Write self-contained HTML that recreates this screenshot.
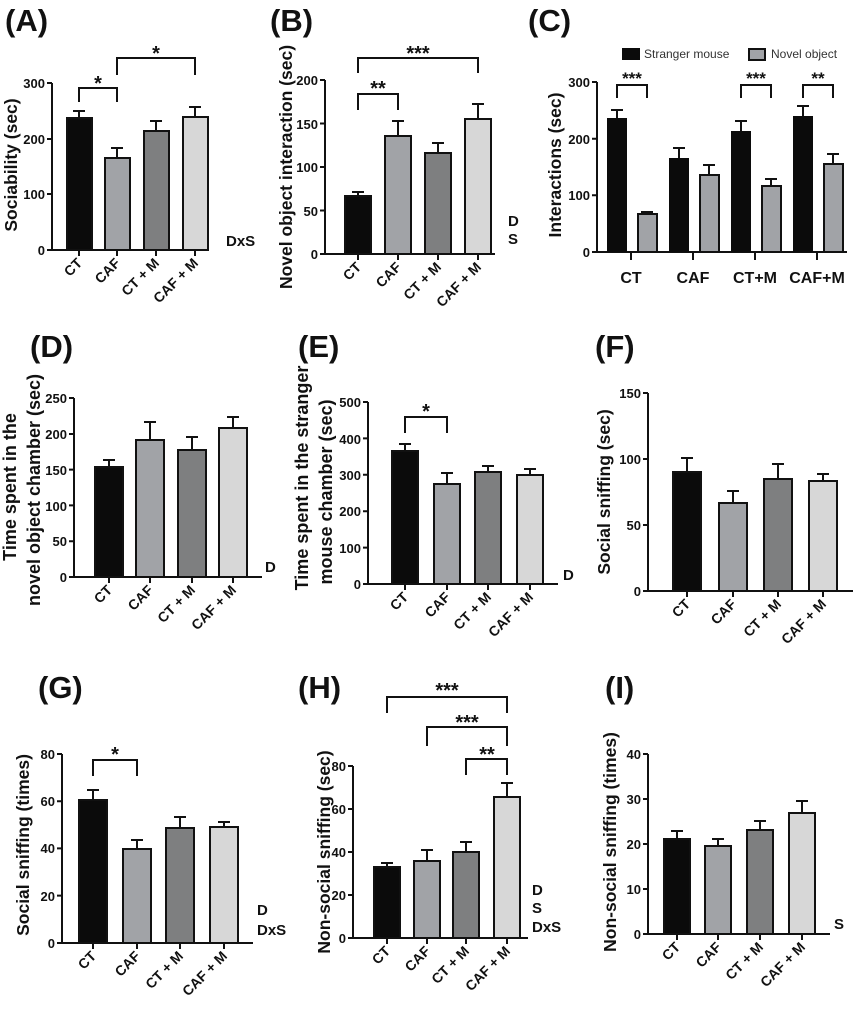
<!DOCTYPE html>
<html><head><meta charset="utf-8"><style>
body{margin:0;background:#fff}
svg{display:block}
text{font-family:"Liberation Sans",Arial,sans-serif;font-weight:bold;fill:#111}
.pl{font-size:31px}
.tk{font-size:13px}
.xl{font-size:14px}
.yt{font-size:17.5px}
.yt2{font-size:18px}
.st{font-size:15px}
.sr{font-size:20px}
.ax{stroke:#111;stroke-width:2;fill:none}
.b{stroke:#111;stroke-width:2}
.k{fill:#0b0b0b}.g1{fill:#a1a3a7}.g2{fill:#7e7f80}.g3{fill:#d7d7d7}
</style></head><body>
<svg width="855" height="1021" viewBox="0 0 855 1021" xmlns="http://www.w3.org/2000/svg">
<text class="pl" x="5" y="31">(A)</text>
<text class="pl" x="270" y="31">(B)</text>
<text class="pl" x="528" y="31">(C)</text>
<text class="pl" x="30" y="357">(D)</text>
<text class="pl" x="298" y="357">(E)</text>
<text class="pl" x="595" y="357">(F)</text>
<text class="pl" x="38" y="698">(G)</text>
<text class="pl" x="298" y="698">(H)</text>
<text class="pl" x="605" y="698">(I)</text>

<!-- A -->
<text class="yt" transform="translate(17,165) rotate(-90)" text-anchor="middle">Sociability (sec)</text>
<path class="ax" d="M52 83 V250 H208"/>
<path class="ax" d="M47 83H52M47 139H52M47 194H52M47 250H52M79 250V256M117 250V256M156 250V256M195 250V256"/>
<g class="tk" text-anchor="end"><text x="45" y="88">300</text><text x="45" y="144">200</text><text x="45" y="199">100</text><text x="45" y="255">0</text></g>
<path class="ax" d="M79 118V111M73 111H85M117 158V148M111 148H123M156 131V121M150 121H162M195 117V107M189 107H201"/>
<rect class="b k" x="67" y="118" width="25" height="132"/>
<rect class="b g1" x="105" y="158" width="25" height="92"/>
<rect class="b g2" x="144" y="131" width="25" height="119"/>
<rect class="b g3" x="183" y="117" width="25" height="133"/>
<g class="xl" text-anchor="end">
<text transform="translate(83,264) rotate(-45)">CT</text>
<text transform="translate(121,264) rotate(-45)">CAF</text>
<text transform="translate(160,264) rotate(-45)">CT + M</text>
<text transform="translate(199,264) rotate(-45)">CAF + M</text></g>
<path class="ax" d="M79 102V88H117V102M117 75V58H195V75"/>
<g class="sr" text-anchor="middle"><text x="98" y="90">*</text><text x="156" y="60">*</text></g>
<text class="st" x="226" y="246">DxS</text>

<!-- B -->
<text class="yt" transform="translate(292,167) rotate(-90)" text-anchor="middle">Novel object interaction (sec)</text>
<path class="ax" d="M325 80V254H495"/>
<path class="ax" d="M320 80H325M320 123.5H325M320 167H325M320 210.5H325M320 254H325M358 254V260M398 254V260M438 254V260M478 254V260"/>
<g class="tk" text-anchor="end"><text x="318" y="85">200</text><text x="318" y="129">150</text><text x="318" y="172">100</text><text x="318" y="216">50</text><text x="318" y="259">0</text></g>
<path class="ax" d="M358 196V192M352 192H364M398 136V121M392 121H404M438 153V143M432 143H444M478 119V104M472 104H484"/>
<rect class="b k" x="345" y="196" width="26" height="58"/>
<rect class="b g1" x="385" y="136" width="26" height="118"/>
<rect class="b g2" x="425" y="153" width="26" height="101"/>
<rect class="b g3" x="465" y="119" width="26" height="135"/>
<g class="xl" text-anchor="end">
<text transform="translate(362,268) rotate(-45)">CT</text>
<text transform="translate(402,268) rotate(-45)">CAF</text>
<text transform="translate(442,268) rotate(-45)">CT + M</text>
<text transform="translate(482,268) rotate(-45)">CAF + M</text></g>
<path class="ax" d="M358 110V94H398V110M358 73V58H478V73"/>
<g class="sr" text-anchor="middle"><text x="378" y="95">**</text><text x="418" y="60">***</text></g>
<text class="st" x="508" y="226">D</text><text class="st" x="508" y="244">S</text>

<!-- C -->
<text class="yt" transform="translate(561,165) rotate(-90)" text-anchor="middle">Interactions (sec)</text>
<rect x="622" y="48" width="18" height="12" fill="#0b0b0b"/>
<text x="644" y="58" style="font-size:12px;font-weight:normal;fill:#333">Stranger mouse</text>
<rect x="749" y="49" width="16" height="11" fill="#a1a3a7" stroke="#111" stroke-width="2"/>
<text x="771" y="58" style="font-size:12px;font-weight:normal;fill:#333">Novel object</text>
<path class="ax" d="M597 82V252H847"/>
<path class="ax" d="M592 82H597M592 138.7H597M592 195.3H597M592 252H597M631 252V260M693 252V260M755 252V260M817 252V260"/>
<g class="tk" text-anchor="end"><text x="590" y="87">300</text><text x="590" y="144">200</text><text x="590" y="200">100</text><text x="590" y="257">0</text></g>
<path class="ax" d="M617 118V110M611 110H623M679 158V148M673 148H685M741 131V121M735 121H747M803 116V106M797 106H809M647 214V212M641 212H653M709 175V165M703 165H715M771 186V179M765 179H777M833 164V154M827 154H839"/>
<rect class="k" x="607" y="118" width="20" height="134"/>
<rect class="k" x="669" y="158" width="20" height="94"/>
<rect class="k" x="731" y="131" width="20" height="121"/>
<rect class="k" x="793" y="116" width="20" height="136"/>
<rect class="b g1" x="638" y="214" width="19" height="38"/>
<rect class="b g1" x="700" y="175" width="19" height="77"/>
<rect class="b g1" x="762" y="186" width="19" height="66"/>
<rect class="b g1" x="824" y="164" width="19" height="88"/>
<g style="font-size:16px" text-anchor="middle"><text x="631" y="283">CT</text><text x="693" y="283">CAF</text><text x="755" y="283">CT+M</text><text x="817" y="283">CAF+M</text></g>
<path class="ax" d="M617 98V85H647V98M741 98V85H771V98M803 98V85H833V98"/>
<g class="sr" style="font-size:17px" text-anchor="middle"><text x="632" y="84">***</text><text x="756" y="84">***</text><text x="818" y="84">**</text></g>

<!-- D -->
<text class="yt2" transform="translate(16,487) rotate(-90)" text-anchor="middle">Time spent in the</text>
<text class="yt2" transform="translate(40,490) rotate(-90)" text-anchor="middle">novel object chamber (sec)</text>
<path class="ax" d="M74 398V577H262"/>
<path class="ax" d="M69 398H74M69 434H74M69 469.6H74M69 505.4H74M69 541.2H74M69 577H74M109 577V583M150 577V583M192 577V583M233 577V583"/>
<g class="tk" text-anchor="end"><text x="67" y="403">250</text><text x="67" y="439">200</text><text x="67" y="475">150</text><text x="67" y="511">100</text><text x="67" y="546">50</text><text x="67" y="582">0</text></g>
<path class="ax" d="M109 467V460M103 460H115M150 440V422M144 422H156M192 450V437M186 437H198M233 428V417M227 417H239"/>
<rect class="b k" x="95" y="467" width="28" height="110"/>
<rect class="b g1" x="136" y="440" width="28" height="137"/>
<rect class="b g2" x="178" y="450" width="28" height="127"/>
<rect class="b g3" x="219" y="428" width="28" height="149"/>
<g class="xl" text-anchor="end">
<text transform="translate(113,591) rotate(-45)">CT</text>
<text transform="translate(154,591) rotate(-45)">CAF</text>
<text transform="translate(196,591) rotate(-45)">CT + M</text>
<text transform="translate(237,591) rotate(-45)">CAF + M</text></g>
<text class="st" x="265" y="572">D</text>

<!-- E -->
<text class="yt2" transform="translate(308,478) rotate(-90)" text-anchor="middle">Time spent in the stranger</text>
<text class="yt2" transform="translate(332,492) rotate(-90)" text-anchor="middle">mouse chamber (sec)</text>
<path class="ax" d="M368 402V584H558"/>
<path class="ax" d="M363 402H368M363 438.4H368M363 474.8H368M363 511.2H368M363 547.6H368M363 584H368M405 584V590M447 584V590M488 584V590M530 584V590"/>
<g class="tk" text-anchor="end"><text x="361" y="407">500</text><text x="361" y="444">400</text><text x="361" y="480">300</text><text x="361" y="516">200</text><text x="361" y="553">100</text><text x="361" y="589">0</text></g>
<path class="ax" d="M405 451V444M399 444H411M447 484V473M441 473H453M488 472V466M482 466H494M530 475V469M524 469H536"/>
<rect class="b k" x="392" y="451" width="26" height="133"/>
<rect class="b g1" x="434" y="484" width="26" height="100"/>
<rect class="b g2" x="475" y="472" width="26" height="112"/>
<rect class="b g3" x="517" y="475" width="26" height="109"/>
<g class="xl" text-anchor="end">
<text transform="translate(409,598) rotate(-45)">CT</text>
<text transform="translate(451,598) rotate(-45)">CAF</text>
<text transform="translate(492,598) rotate(-45)">CT + M</text>
<text transform="translate(534,598) rotate(-45)">CAF + M</text></g>
<path class="ax" d="M405 433V417H447V433"/>
<text class="sr" x="426" y="418" text-anchor="middle">*</text>
<text class="st" x="563" y="580">D</text>

<!-- F -->
<text class="yt" transform="translate(610,492) rotate(-90)" text-anchor="middle">Social sniffing (sec)</text>
<path class="ax" d="M648 393V591H853"/>
<path class="ax" d="M643 393H648M643 459H648M643 525H648M643 591H648M687 591V597M733 591V597M778 591V597M823 591V597"/>
<g class="tk" text-anchor="end"><text x="641" y="398">150</text><text x="641" y="464">100</text><text x="641" y="530">50</text><text x="641" y="596">0</text></g>
<path class="ax" d="M687 472V458M681 458H693M733 503V491M727 491H739M778 479V464M772 464H784M823 481V474M817 474H829"/>
<rect class="b k" x="673" y="472" width="28" height="119"/>
<rect class="b g1" x="719" y="503" width="28" height="88"/>
<rect class="b g2" x="764" y="479" width="28" height="112"/>
<rect class="b g3" x="809" y="481" width="28" height="110"/>
<g class="xl" text-anchor="end">
<text transform="translate(691,605) rotate(-45)">CT</text>
<text transform="translate(737,605) rotate(-45)">CAF</text>
<text transform="translate(782,605) rotate(-45)">CT + M</text>
<text transform="translate(827,605) rotate(-45)">CAF + M</text></g>

<!-- G -->
<text class="yt" transform="translate(29,845) rotate(-90)" text-anchor="middle">Social sniffing (times)</text>
<path class="ax" d="M62 754V943H253"/>
<path class="ax" d="M57 754H62M57 801.2H62M57 848.4H62M57 895.6H62M57 943H62M93 943V949M137 943V949M180 943V949M224 943V949"/>
<g class="tk" text-anchor="end"><text x="55" y="759">80</text><text x="55" y="806">60</text><text x="55" y="853">40</text><text x="55" y="901">20</text><text x="55" y="948">0</text></g>
<path class="ax" d="M93 800V790M87 790H99M137 849V840M131 840H143M180 828V817M174 817H186M224 827V822M218 822H230"/>
<rect class="b k" x="79" y="800" width="28" height="143"/>
<rect class="b g1" x="123" y="849" width="28" height="94"/>
<rect class="b g2" x="166" y="828" width="28" height="115"/>
<rect class="b g3" x="210" y="827" width="28" height="116"/>
<g class="xl" text-anchor="end">
<text transform="translate(97,957) rotate(-45)">CT</text>
<text transform="translate(141,957) rotate(-45)">CAF</text>
<text transform="translate(184,957) rotate(-45)">CT + M</text>
<text transform="translate(228,957) rotate(-45)">CAF + M</text></g>
<path class="ax" d="M93 776V760H137V776"/>
<text class="sr" x="115" y="761" text-anchor="middle">*</text>
<text class="st" x="257" y="915">D</text><text class="st" x="257" y="935">DxS</text>

<!-- H -->
<text class="yt" transform="translate(330,852) rotate(-90)" text-anchor="middle">Non-social sniffing (sec)</text>
<path class="ax" d="M353 766V938H528"/>
<path class="ax" d="M348 766H353M348 809H353M348 852H353M348 895H353M348 938H353M387 938V944M427 938V944M466 938V944M507 938V944"/>
<g class="tk" text-anchor="end"><text x="346" y="771">80</text><text x="346" y="814">60</text><text x="346" y="857">40</text><text x="346" y="900">20</text><text x="346" y="943">0</text></g>
<path class="ax" d="M387 867V863M381 863H393M427 861V850M421 850H433M466 852V842M460 842H472M507 797V783M501 783H513"/>
<rect class="b k" x="374" y="867" width="26" height="71"/>
<rect class="b g1" x="414" y="861" width="26" height="77"/>
<rect class="b g2" x="453" y="852" width="26" height="86"/>
<rect class="b g3" x="494" y="797" width="26" height="141"/>
<g class="xl" text-anchor="end">
<text transform="translate(391,952) rotate(-45)">CT</text>
<text transform="translate(431,952) rotate(-45)">CAF</text>
<text transform="translate(470,952) rotate(-45)">CT + M</text>
<text transform="translate(511,952) rotate(-45)">CAF + M</text></g>
<path class="ax" d="M387 713V697H507V713M427 746V727H507V746M466 775V759H507V775"/>
<g class="sr" text-anchor="middle"><text x="447" y="697">***</text><text x="467" y="729">***</text><text x="487" y="761">**</text></g>
<text class="st" x="532" y="895">D</text><text class="st" x="532" y="913">S</text><text class="st" x="532" y="932">DxS</text>

<!-- I -->
<text class="yt" transform="translate(616,842) rotate(-90)" text-anchor="middle">Non-social sniffing (times)</text>
<path class="ax" d="M648 754V934H830"/>
<path class="ax" d="M643 754H648M643 799H648M643 844H648M643 889H648M643 934H648M677 934V940M718 934V940M760 934V940M802 934V940"/>
<g class="tk" text-anchor="end"><text x="641" y="759">40</text><text x="641" y="804">30</text><text x="641" y="849">20</text><text x="641" y="894">10</text><text x="641" y="939">0</text></g>
<path class="ax" d="M677 839V831M671 831H683M718 846V839M712 839H724M760 830V821M754 821H766M802 813V801M796 801H808"/>
<rect class="b k" x="664" y="839" width="26" height="95"/>
<rect class="b g1" x="705" y="846" width="26" height="88"/>
<rect class="b g2" x="747" y="830" width="26" height="104"/>
<rect class="b g3" x="789" y="813" width="26" height="121"/>
<g class="xl" text-anchor="end">
<text transform="translate(681,948) rotate(-45)">CT</text>
<text transform="translate(722,948) rotate(-45)">CAF</text>
<text transform="translate(764,948) rotate(-45)">CT + M</text>
<text transform="translate(806,948) rotate(-45)">CAF + M</text></g>
<text class="st" x="834" y="929">S</text>
</svg>
</body></html>
